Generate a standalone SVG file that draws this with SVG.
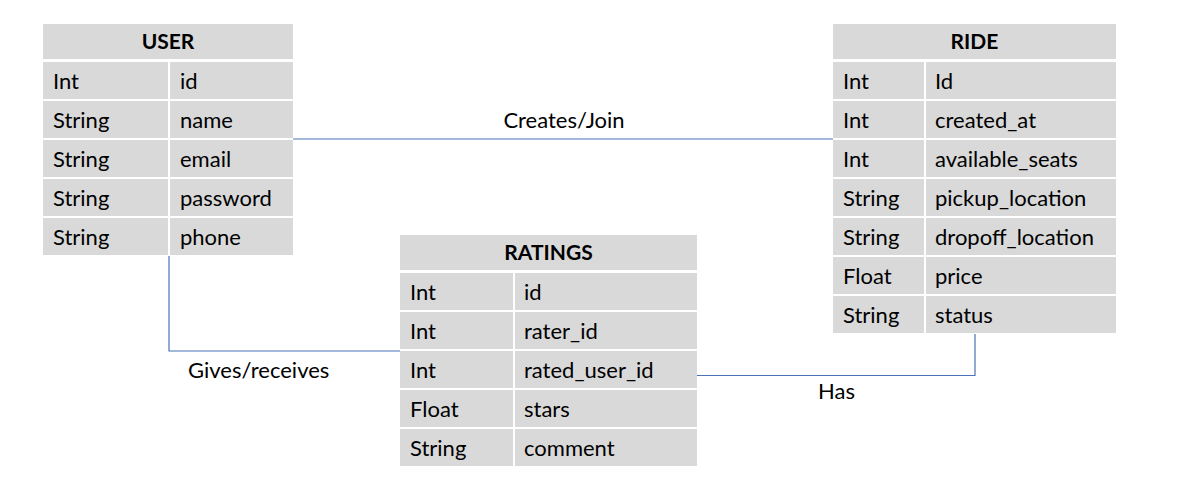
<svg xmlns="http://www.w3.org/2000/svg" width="1194" height="488" viewBox="0 0 1194 488">
<style>
.cell{fill:#d9d9d9}
.t{font-family:Lato,"Open Sans","Liberation Sans",sans-serif;font-size:22px;fill:#000}
.h{font-family:Lato,"Open Sans","Liberation Sans",sans-serif;font-size:21px;font-weight:bold;fill:#000;text-anchor:middle}
.c{fill:none;stroke:#4a72b8;stroke-width:1.2}
</style>
<rect width="1194" height="488" fill="#fff"/>
<g id="connectors">
<path class="c" d="M293,139 H833"/>
<path class="c" d="M169,256 V351 H400"/>
<path class="c" d="M697,375.5 H975 V334"/>
<text class="t" x="564" y="128" text-anchor="middle">Creates/Join</text>
<text class="t" x="188" y="378">Gives/receives</text>
<text class="t" x="818" y="399">Has</text>
</g>
<g id="user">
<rect class="cell" x="43" y="24" width="250" height="35"/>
<text class="h" x="168" y="49">USER</text>
<rect class="cell" x="43" y="62" width="125" height="37"/><rect class="cell" x="170" y="62" width="123" height="37"/>
<rect class="cell" x="43" y="101" width="125" height="37"/><rect class="cell" x="170" y="101" width="123" height="37"/>
<rect class="cell" x="43" y="140" width="125" height="37"/><rect class="cell" x="170" y="140" width="123" height="37"/>
<rect class="cell" x="43" y="179" width="125" height="37"/><rect class="cell" x="170" y="179" width="123" height="37"/>
<rect class="cell" x="43" y="218" width="125" height="37"/><rect class="cell" x="170" y="218" width="123" height="37"/>
<text class="t" x="53" y="88.5">Int</text><text class="t" x="180" y="88.5">id</text>
<text class="t" x="53" y="127.5">String</text><text class="t" x="180" y="127.5">name</text>
<text class="t" x="53" y="166.5">String</text><text class="t" x="180" y="166.5">email</text>
<text class="t" x="53" y="205.5">String</text><text class="t" x="180" y="205.5">password</text>
<text class="t" x="53" y="244.5">String</text><text class="t" x="180" y="244.5">phone</text>
</g>
<g id="ride">
<rect class="cell" x="833" y="24" width="283" height="35"/>
<text class="h" x="974.5" y="49">RIDE</text>
<rect class="cell" x="833" y="62" width="91" height="37"/><rect class="cell" x="926" y="62" width="190" height="37"/>
<rect class="cell" x="833" y="101" width="91" height="37"/><rect class="cell" x="926" y="101" width="190" height="37"/>
<rect class="cell" x="833" y="140" width="91" height="37"/><rect class="cell" x="926" y="140" width="190" height="37"/>
<rect class="cell" x="833" y="179" width="91" height="37"/><rect class="cell" x="926" y="179" width="190" height="37"/>
<rect class="cell" x="833" y="218" width="91" height="37"/><rect class="cell" x="926" y="218" width="190" height="37"/>
<rect class="cell" x="833" y="257" width="91" height="37"/><rect class="cell" x="926" y="257" width="190" height="37"/>
<rect class="cell" x="833" y="296" width="91" height="37"/><rect class="cell" x="926" y="296" width="190" height="37"/>
<text class="t" x="843" y="88.5">Int</text><text class="t" x="935" y="88.5">Id</text>
<text class="t" x="843" y="127.5">Int</text><text class="t" x="935" y="127.5">created_at</text>
<text class="t" x="843" y="166.5">Int</text><text class="t" x="935" y="166.5">available_seats</text>
<text class="t" x="843" y="205.5">String</text><text class="t" x="935" y="205.5">pickup_location</text>
<text class="t" x="843" y="244.5">String</text><text class="t" x="935" y="244.5">dropoff_location</text>
<text class="t" x="843" y="283.5">Float</text><text class="t" x="935" y="283.5">price</text>
<text class="t" x="843" y="322.5">String</text><text class="t" x="935" y="322.5">status</text>
</g>
<g id="ratings">
<rect class="cell" x="400" y="235" width="297" height="35"/>
<text class="h" x="548.5" y="260">RATINGS</text>
<rect class="cell" x="400" y="273" width="113" height="37"/><rect class="cell" x="515" y="273" width="182" height="37"/>
<rect class="cell" x="400" y="312" width="113" height="37"/><rect class="cell" x="515" y="312" width="182" height="37"/>
<rect class="cell" x="400" y="351" width="113" height="37"/><rect class="cell" x="515" y="351" width="182" height="37"/>
<rect class="cell" x="400" y="390" width="113" height="37"/><rect class="cell" x="515" y="390" width="182" height="37"/>
<rect class="cell" x="400" y="429" width="113" height="37"/><rect class="cell" x="515" y="429" width="182" height="37"/>
<text class="t" x="410" y="299.5">Int</text><text class="t" x="524" y="299.5">id</text>
<text class="t" x="410" y="338.5">Int</text><text class="t" x="524" y="338.5">rater_id</text>
<text class="t" x="410" y="377.5">Int</text><text class="t" x="524" y="377.5">rated_user_id</text>
<text class="t" x="410" y="416.5">Float</text><text class="t" x="524" y="416.5">stars</text>
<text class="t" x="410" y="455.5">String</text><text class="t" x="524" y="455.5">comment</text>
</g>
</svg>
